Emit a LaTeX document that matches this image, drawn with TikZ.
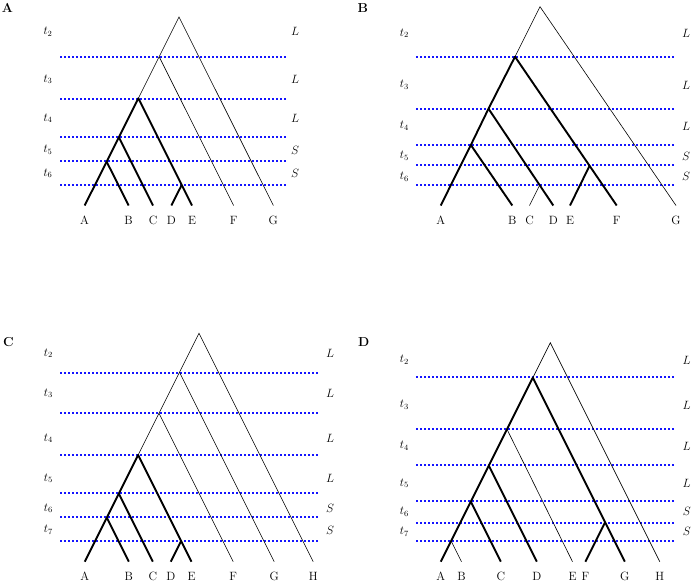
\documentclass[tikz,border=0pt]{standalone}
\begin{document}
\begin{tikzpicture}[x=1pt,y=-1pt,
  thn/.style={line width=0.6pt},
  thk/.style={line width=1.9pt, line join=round},
  lvl/.style={color={rgb,255:red,20;green,20;blue,255}, line width=1.3pt, dash pattern=on 1.6pt off 2.4pt},
  lf/.style={anchor=base, inner sep=0pt, font=\fontsize{12}{14}\selectfont},
  tl/.style={inner sep=0pt, font=\fontsize{12}{14}\selectfont},
  pl/.style={inner sep=0pt, font=\fontsize{13}{15}\selectfont\bfseries}]
\useasboundingbox (0,0) rectangle (692,582);

% ================= Panel A =================
\node[pl] (pA) at (7.5,7.7) {A};
\coordinate (aL1s) at (60,57);  \coordinate (aL1e) at (286,57);
\coordinate (aL2s) at (60,99);  \coordinate (aL2e) at (286,99);
\coordinate (aL3s) at (60,137); \coordinate (aL3e) at (286,137);
\coordinate (aL4s) at (60,161); \coordinate (aL4e) at (286,161);
\coordinate (aL5s) at (60,185); \coordinate (aL5e) at (286,185);
\foreach \i in {1,...,5} \draw[lvl] (aL\i s) -- (aL\i e);
\coordinate (aR) at (179,17);
\coordinate (a1) at (159.15,56.7);
\coordinate (a2) at (138.35,98.3);
\coordinate (a3) at (118.85,137.3);
\coordinate (a4) at (106.65,161.7);
\coordinate (a5) at (181.7,185);
\coordinate (aA) at (84.65,205.5);
\coordinate (aB) at (128.65,205.5);
\coordinate (aC) at (153.05,205.5);
\coordinate (aD) at (171.35,205.5);
\coordinate (aE) at (192.05,205.5);
\coordinate (aF) at (233.65,205.5);
\coordinate (aG) at (273.35,205.5);
\draw[thn] (aG) -- (aR) -- (a1) -- (a2);
\draw[thn] (a1) -- (aF);
\draw[thk] (aA) -- (a4) -- (a3) -- (a2) -- (aE);
\draw[thk] (a4) -- (aB);
\draw[thk] (a3) -- (aC);
\draw[thk] (a5) -- (aD);
\node[lf] (laA) at (84.65,224) {A};
\node[lf] (laB) at (128.65,224) {B};
\node[lf] (laC) at (153.05,224) {C};
\node[lf] (laD) at (171.35,224) {D};
\node[lf] (laE) at (192.05,224) {E};
\node[lf] (laF) at (233.65,224) {F};
\node[lf] (laG) at (273.35,224) {G};
\node[tl] (at2) at (48,31.7) {$t_2$};
\node[tl] (at3) at (48,79.3) {$t_3$};
\node[tl] (at4) at (48,118.3) {$t_4$};
\node[tl] (at5) at (48,150) {$t_5$};
\node[tl] (at6) at (48,173.3) {$t_6$};
\node[tl] (as2) at (295,31.7) {$L$};
\node[tl] (as3) at (295,79.3) {$L$};
\node[tl] (as4) at (295,118.3) {$L$};
\node[tl] (as5) at (295,150) {$S$};
\node[tl] (as6) at (295,173.3) {$S$};

% ================= Panel B =================
\node[pl] (pB) at (362.7,7.7) {B};
\coordinate (bL1s) at (416,57);  \coordinate (bL1e) at (674,57);
\coordinate (bL2s) at (416,109); \coordinate (bL2e) at (674,109);
\coordinate (bL3s) at (416,145); \coordinate (bL3e) at (674,145);
\coordinate (bL4s) at (416,165); \coordinate (bL4e) at (674,165);
\coordinate (bL5s) at (416,185); \coordinate (bL5e) at (674,185);
\foreach \i in {1,...,5} \draw[lvl] (bL\i s) -- (bL\i e);
\coordinate (bR) at (540,6.7);
\coordinate (b1) at (515,56.7);
\coordinate (b2) at (488.5,108.7);
\coordinate (b3) at (470.85,145);
\coordinate (b4) at (589.6,165.7);
\coordinate (b5) at (539.7,185);
\coordinate (bA) at (440.7,205.5);
\coordinate (bB) at (512.3,205.5);
\coordinate (bC) at (529.5,205.5);
\coordinate (bD) at (553.3,205.5);
\coordinate (bE) at (570,205.5);
\coordinate (bF) at (616.7,205.5);
\coordinate (bG) at (676,205.5);
\draw[thn] (bG) -- (bR) -- (b1);
\draw[thn] (b5) -- (bC);
\draw[thk] (bA) -- (b3) -- (b2) -- (b1) -- (bF);
\draw[thk] (b3) -- (bB);
\draw[thk] (b2) -- (bD);
\draw[thk] (b4) -- (bE);
\node[lf] (lbA) at (440.7,224) {A};
\node[lf] (lbB) at (512.3,224) {B};
\node[lf] (lbC) at (529.5,224) {C};
\node[lf] (lbD) at (553.3,224) {D};
\node[lf] (lbE) at (570,224) {E};
\node[lf] (lbF) at (616.7,224) {F};
\node[lf] (lbG) at (676,224) {G};
\node[tl] (bt2) at (404.3,33.3) {$t_2$};
\node[tl] (bt3) at (404.3,85) {$t_3$};
\node[tl] (bt4) at (404.3,126) {$t_4$};
\node[tl] (bt5) at (404.3,156) {$t_5$};
\node[tl] (bt6) at (404.3,176.7) {$t_6$};
\node[tl] (bs2) at (686,33.3) {$L$};
\node[tl] (bs3) at (686,85) {$L$};
\node[tl] (bs4) at (686,126) {$L$};
\node[tl] (bs5) at (686,156) {$S$};
\node[tl] (bs6) at (686,176.7) {$S$};

% ================= Panel C =================
\node[pl] (pC) at (8.3,341.7) {C};
\coordinate (cL1s) at (60,373); \coordinate (cL1e) at (318,373);
\coordinate (cL2s) at (60,413); \coordinate (cL2e) at (318,413);
\coordinate (cL3s) at (60,455); \coordinate (cL3e) at (318,455);
\coordinate (cL4s) at (60,493); \coordinate (cL4e) at (318,493);
\coordinate (cL5s) at (60,517); \coordinate (cL5e) at (318,517);
\coordinate (cL6s) at (60,541); \coordinate (cL6e) at (318,541);
\foreach \i in {1,...,6} \draw[lvl] (cL\i s) -- (cL\i e);
\coordinate (cR) at (199,333.3);
\coordinate (c1) at (179.5,372.3);
\coordinate (c2) at (159,413.3);
\coordinate (c3) at (138.15,455);
\coordinate (c4) at (118.8,493.7);
\coordinate (c5) at (106.8,517.7);
\coordinate (c6) at (181.15,541);
\coordinate (cA) at (84.8,561.7);
\coordinate (cB) at (128.8,561.7);
\coordinate (cC) at (152.8,561.7);
\coordinate (cD) at (170.8,561.7);
\coordinate (cE) at (191.5,561.7);
\coordinate (cF) at (233.2,561.7);
\coordinate (cG) at (274.2,561.7);
\coordinate (cH) at (313.2,561.7);
\draw[thn] (cH) -- (cR) -- (c1) -- (c2) -- (c3);
\draw[thn] (c1) -- (cG);
\draw[thn] (c2) -- (cF);
\draw[thk] (cA) -- (c5) -- (c4) -- (c3) -- (cE);
\draw[thk] (c5) -- (cB);
\draw[thk] (c4) -- (cC);
\draw[thk] (c6) -- (cD);
\node[lf] (lcA) at (84.8,580.5) {A};
\node[lf] (lcB) at (128.8,580.5) {B};
\node[lf] (lcC) at (152.8,580.5) {C};
\node[lf] (lcD) at (170.8,580.5) {D};
\node[lf] (lcE) at (191.5,580.5) {E};
\node[lf] (lcF) at (233.2,580.5) {F};
\node[lf] (lcG) at (274.2,580.5) {G};
\node[lf] (lcH) at (313.2,580.5) {H};
\node[tl] (ct2) at (48.3,353.3) {$t_2$};
\node[tl] (ct3) at (48.3,393.3) {$t_3$};
\node[tl] (ct4) at (48.3,438.3) {$t_4$};
\node[tl] (ct5) at (48.3,478.3) {$t_5$};
\node[tl] (ct6) at (48.3,508.3) {$t_6$};
\node[tl] (ct7) at (48.3,530) {$t_7$};
\node[tl] (cs2) at (330,353.3) {$L$};
\node[tl] (cs3) at (330,393.3) {$L$};
\node[tl] (cs4) at (330,438.3) {$L$};
\node[tl] (cs5) at (330,478.3) {$L$};
\node[tl] (cs6) at (330,508.3) {$S$};
\node[tl] (cs7) at (330,530) {$S$};

% ================= Panel D =================
\node[pl] (pD) at (363.7,342) {D};
\coordinate (dL1s) at (416,377); \coordinate (dL1e) at (674,377);
\coordinate (dL2s) at (416,429); \coordinate (dL2e) at (674,429);
\coordinate (dL3s) at (416,465); \coordinate (dL3e) at (674,465);
\coordinate (dL4s) at (416,501); \coordinate (dL4e) at (674,501);
\coordinate (dL5s) at (416,523); \coordinate (dL5e) at (674,523);
\coordinate (dL6s) at (416,541); \coordinate (dL6e) at (674,541);
\foreach \i in {1,...,6} \draw[lvl] (dL\i s) -- (dL\i e);
\coordinate (dR) at (550.3,342.7);
\coordinate (d1) at (532.8,377.7);
\coordinate (d2) at (507,429.3);
\coordinate (d3) at (488.8,465.7);
\coordinate (d4) at (470.8,501.7);
\coordinate (d5) at (451.15,541);
\coordinate (d6) at (605.1,522.3);
\coordinate (dA) at (440.8,561.7);
\coordinate (dB) at (461.5,561.7);
\coordinate (dC) at (500.8,561.7);
\coordinate (dD) at (536.8,561.7);
\coordinate (dE) at (572.5,561.7);
\coordinate (dF) at (585.4,561.7);
\coordinate (dG) at (624.8,561.7);
\coordinate (dH) at (659.8,561.7);
\draw[thn] (dH) -- (dR) -- (d1);
\draw[thn] (d2) -- (dE);
\draw[thn] (d5) -- (dB);
\draw[thk] (dA) -- (d5) -- (d4) -- (d3) -- (d2) -- (d1) -- (dG);
\draw[thk] (d4) -- (dC);
\draw[thk] (d3) -- (dD);
\draw[thk] (d6) -- (dF);
\node[lf] (ldA) at (440.8,580.5) {A};
\node[lf] (ldB) at (461.5,580.5) {B};
\node[lf] (ldC) at (500.8,580.5) {C};
\node[lf] (ldD) at (536.8,580.5) {D};
\node[lf] (ldE) at (572.5,580.5) {E};
\node[lf] (ldF) at (585.4,580.5) {F};
\node[lf] (ldG) at (624.8,580.5) {G};
\node[lf] (ldH) at (659.8,580.5) {H};
\node[tl] (dt2) at (404.3,360) {$t_2$};
\node[tl] (dt3) at (404.3,405) {$t_3$};
\node[tl] (dt4) at (404.3,446) {$t_4$};
\node[tl] (dt5) at (404.3,483.3) {$t_5$};
\node[tl] (dt6) at (404.3,511.7) {$t_6$};
\node[tl] (dt7) at (404.3,531.7) {$t_7$};
\node[tl] (ds2) at (686.7,360) {$L$};
\node[tl] (ds3) at (686.7,405) {$L$};
\node[tl] (ds4) at (686.7,446) {$L$};
\node[tl] (ds5) at (686.7,483.3) {$L$};
\node[tl] (ds6) at (686.7,511.7) {$S$};
\node[tl] (ds7) at (686.7,531.7) {$S$};
\end{tikzpicture}
\end{document}
